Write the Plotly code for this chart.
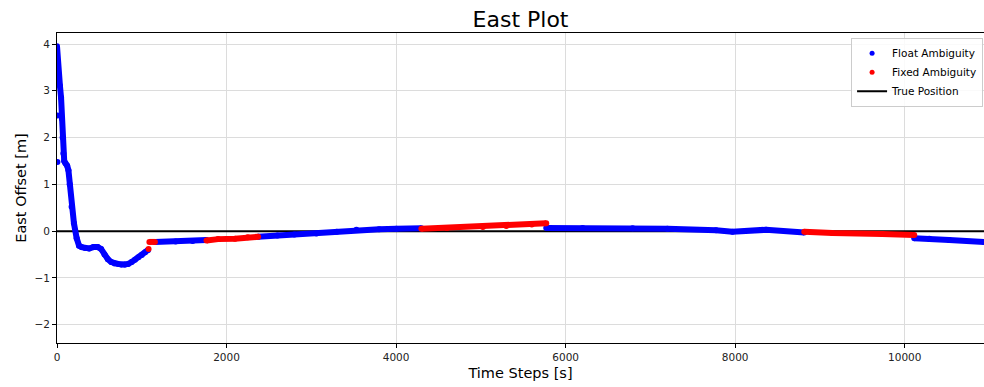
import plotly.graph_objects as go

# ---- data ----
float1_t = [0, 8, 16, 25, 35, 48, 58, 66, 75, 85, 100, 120, 135, 150, 172, 200, 232, 260, 290,
            330, 380, 430, 480, 520, 560, 600, 640, 680, 720, 760, 800, 840, 880, 920, 960,
            1000, 1040, 1075]
float1_v = [3.95, 3.6, 3.3, 3.15, 3.1, 2.85, 2.4, 2.0, 1.66, 1.5, 1.45, 1.4, 1.3, 1.0, 0.52,
            0.17, -0.15, -0.31, -0.34, -0.36, -0.37, -0.34, -0.34, -0.38, -0.50, -0.60, -0.66,
            -0.69, -0.70, -0.71, -0.72, -0.70, -0.66, -0.61, -0.56, -0.51, -0.45, -0.40]
float_out_t = [5, 5]
float_out_v = [2.47, 1.48]
float2_t = [1155, 1400, 1600, 1764]
float2_v = [-0.23, -0.22, -0.21, -0.19]
float3_t = [2373, 2600, 2800, 3060, 3300, 3532, 3800, 4003, 4298]
float3_v = [-0.12, -0.09, -0.07, -0.05, -0.01, 0.03, 0.04, 0.05, 0.06]
float4_t = [5771, 6200, 6790, 7200, 7774, 7968, 8364, 8815]
float4_v = [0.07, 0.07, 0.06, 0.05, 0.02, -0.01, 0.03, -0.03]
float5_t = [10112, 10290, 10524, 10935]
float5_v = [-0.15, -0.16, -0.19, -0.23]

fixed1_t = [1080]
fixed1_v = [-0.38]
fixed2_t = [1090, 1155]
fixed2_v = [-0.23, -0.23]
fixed3_t = [1764, 1900, 2100, 2250, 2373]
fixed3_v = [-0.20, -0.17, -0.16, -0.13, -0.12]
fixed4_t = [4298, 4600, 5024, 5300, 5600, 5771]
fixed4_v = [0.05, 0.07, 0.09, 0.11, 0.14, 0.17]
fixed5_t = [8815, 9146, 9735, 10112]
fixed5_v = [-0.01, -0.04, -0.06, -0.08]

true_t = [0, 10935]
true_v = [0, 0]

x_ticks = [0, 2000, 4000, 6000, 8000, 10000]
y_ticks = [-2, -1, 0, 1, 2, 3, 4]


def join(segs):
    xs, ys = [], []
    for t, v in segs:
        xs += list(t) + [None]
        ys += list(v) + [None]
    return xs, ys


fx, fy = join([(float1_t, float1_v), (float_out_t[:1], float_out_v[:1]),
               (float_out_t[1:], float_out_v[1:]), (float2_t, float2_v),
               (float3_t, float3_v), (float4_t, float4_v), (float5_t, float5_v)])
rx, ry = join([(fixed1_t, fixed1_v), (fixed2_t, fixed2_v), (fixed3_t, fixed3_v),
               (fixed4_t, fixed4_v), (fixed5_t, fixed5_v)])

BLUE = "#0000ff"
RED = "#ff0000"
FONT = "DejaVu Sans"

fig = go.Figure()
fig.add_trace(go.Scatter(x=true_t, y=true_v, mode="lines",
                         line=dict(color="black", width=2), showlegend=False))
fig.add_trace(go.Scatter(x=fx, y=fy, mode="lines+markers", connectgaps=False,
                         line=dict(color=BLUE, width=6), marker=dict(color=BLUE, size=6),
                         showlegend=False))
fig.add_trace(go.Scatter(x=rx, y=ry, mode="lines+markers", connectgaps=False,
                         line=dict(color=RED, width=6), marker=dict(color=RED, size=6),
                         showlegend=False))
# legend entries
fig.add_trace(go.Scatter(x=[None], y=[None], mode="markers", name="Float Ambiguity",
                         marker=dict(color=BLUE, size=5)))
fig.add_trace(go.Scatter(x=[None], y=[None], mode="markers", name="Fixed Ambiguity",
                         marker=dict(color=RED, size=5)))
fig.add_trace(go.Scatter(x=[None], y=[None], mode="lines", name="True Position",
                         line=dict(color="black", width=2)))

axis_common = dict(showgrid=True, gridcolor="#dcdcdc", gridwidth=1, zeroline=False,
                   showline=True, linecolor="black", linewidth=1, mirror=True,
                   ticks="outside", ticklen=4, tickcolor="black", automargin=False,
                   tickfont=dict(family=FONT, size=10.5, color="#222"))

fig.update_layout(
    width=984, height=387,
    margin=dict(l=57, r=0, t=33, b=44, pad=0),
    paper_bgcolor="white", plot_bgcolor="white",
    title=dict(text="East Plot", x=0.529, xanchor="center", y=0.951, yanchor="middle",
               automargin=False,
               font=dict(family=FONT, size=22, color="black")),
    xaxis=dict(range=[0, 10935], tickvals=x_ticks, tickformat="d",
               title=dict(text="Time Steps [s]", standoff=6,
                          font=dict(family=FONT, size=14.5, color="black")),
               **axis_common),
    yaxis=dict(range=[-2.39, 4.235], tickvals=y_ticks,
               title=dict(text="East Offset [m]", standoff=4,
                          font=dict(family=FONT, size=14.5, color="black")),
               **axis_common),
    legend=dict(x=0.999, xanchor="right", y=0.985, yanchor="top",
                bgcolor="rgba(255,255,255,0.85)", bordercolor="#cccccc", borderwidth=1,
                font=dict(family=FONT, size=10.5, color="black"),
                tracegroupgap=0),
)

fig.write_html("out.html", config={"displayModeBar": False},
               post_script="document.body.style.margin='0';document.body.style.overflow='hidden';")
